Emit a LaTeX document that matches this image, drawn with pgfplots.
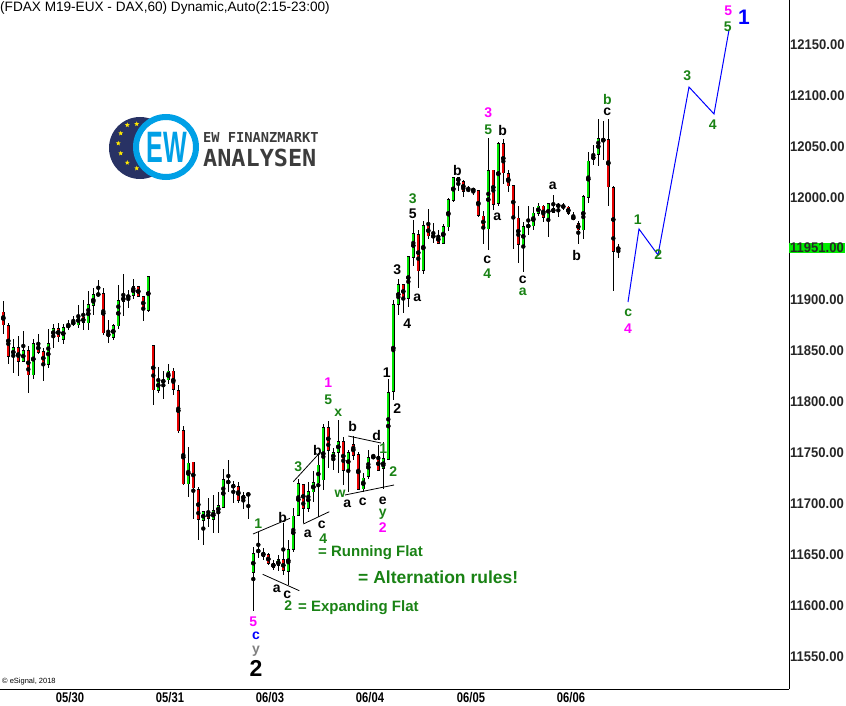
\documentclass[border=0pt]{standalone}
\usepackage{fontspec}
\setmainfont{Liberation Sans}
\newfontfamily\axisfont{Liberation Sans}[FakeStretch=0.93]
\newfontfamily\datefont{Liberation Sans}[FakeStretch=0.8]
\newfontfamily\ewfont{Liberation Sans}[FakeStretch=0.57]
\newfontfamily\logofont{DejaVu Sans Mono}
\usepackage{pgfplots}
\usepackage{pgfplotstable}
\pgfplotsset{compat=1.18}
\usetikzlibrary{shapes.geometric}

\definecolor{cgreen}{RGB}{0,230,0}
\definecolor{cred}{RGB}{230,0,0}
\definecolor{tag}{RGB}{0,235,0}
\definecolor{wg}{RGB}{25,130,20}
\definecolor{wm}{RGB}{255,0,255}
\definecolor{wb}{RGB}{0,0,255}
\definecolor{wgray}{RGB}{128,128,128}
\definecolor{logonavy}{RGB}{40,50,100}
\definecolor{logoblue}{RGB}{0,160,230}
\definecolor{logogray}{RGB}{60,60,60}

% hourly bars, x = bar number
\pgfplotstableread{
x o h l c
0 11888 11899 11867 11876
1 11875 11877 11837 11845
2 11845 11862 11829 11853
3 11853 11865 11826 11840
4 11840 11870 11840 11850
5 11850 11855 11809 11827
6 11827 11862 11823 11857
7 11857 11867 11847 11849
8 11849 11853 11821 11837
9 11837 11872 11833 11857
10 11864 11876 11853 11872
11 11872 11878 11859 11864
12 11862 11877 11857 11873
13 11874 11880 11871 11875
14 11877 11884 11875 11878
15 11876 11895 11873 11884
16 11883 11900 11871 11878
17 11878 11909 11871 11895
18 11895 11912 11885 11905
19 11905 11920 11904 11906
20 11906 11912 11866 11868
21 11868 11880 11858 11864
22 11864 11877 11861 11875
23 11875 11915 11872 11899
24 11899 11926 11884 11903
25 11903 11910 11892 11904
26 11905 11921 11901 11913
27 11913 11914 11903 11904
28 11903 11904 11879 11891
29 11890 11924 11888 11923
30 11855 11855 11797 11812
31 11812 11834 11809 11821
32 11820 11830 11803 11821
33 11822 11837 11818 11830
34 11830 11833 11807 11813
35 11811 11817 11770 11772
36 11772 11777 11719 11720
37 11720 11756 11707 11740
38 11741 11741 11685 11716
39 11714 11717 11665 11685
40 11684 11692 11660 11692
41 11692 11706 11678 11686
42 11685 11709 11672 11693
43 11692 11712 11672 11698
44 11697 11734 11696 11724
45 11723 11743 11712 11720
46 11719 11723 11701 11716
47 11717 11722 11701 11704
48 11705 11712 11695 11708
49 11709 11711 11685 11710
50 11633 11658 11595 11651
51 11653 11673 11647 11655
52 11652 11657 11645 11649
53 11650 11652 11640 11642
54 11642 11645 11635 11638
55 11640 11650 11634 11645
56 11645 11681 11630 11635
57 11634 11665 11621 11655
58 11656 11696 11653 11688
59 11689 11725 11688 11720
60 11719 11720 11681 11696
61 11696 11722 11692 11712
62 11712 11732 11702 11721
63 11721 11750 11687 11738
64 11724 11779 11714 11775
65 11775 11781 11735 11753
66 11744 11755 11733 11750
67 11751 11782 11730 11761
68 11761 11766 11719 11733
69 11733 11753 11712 11750
70 11758 11767 11743 11748
71 11748 11751 11714 11715
72 11715 11730 11712 11725
73 11727 11753 11725 11745
74 11745 11749 11745 11747
75 11746 11758 11732 11733
76 11735 11761 11715 11744
77 11744 11823 11743 11809
78 11811 11900 11802 11895
79 11896 11921 11885 11915
80 11915 11916 11887 11902
81 11902 11943 11893 11942
82 11942 11979 11933 11965
83 11964 11969 11912 11929
84 11929 11978 11926 11973
85 11973 11989 11960 11963
86 11963 11975 11956 11962
87 11963 11969 11955 11956
88 11956 11975 11955 11972
89 11972 12000 11968 11998
90 11998 12021 11996 12020
91 12020 12021 12007 12016
92 12016 12018 12001 12007
93 12008 12012 12006 12008
94 12009 12010 12003 12007
95 12007 12007 11981 11983
96 11982 11987 11955 11971
97 11970 12059 11949 12027
98 12027 12027 11988 11994
99 11995 12055 11992 12053
100 12053 12058 12014 12025
101 12024 12028 12006 12012
102 12012 12012 11950 11980
103 11980 11992 11936 11955
104 11953 11977 11928 11972
105 11972 11992 11964 11973
106 11973 11991 11969 11985
107 11985 11995 11982 11992
108 11992 11993 11977 11981
109 11980 11995 11962 11994
110 11986 12003 11985 11990
111 11992 11995 11981 11993
112 11992 11995 11988 11992
113 11991 11992 11983 11985
114 11982 11986 11978 11979
115 11975 11977 11955 11969
116 11969 12003 11960 12001
117 12001 12045 11995 12036
118 12038 12052 12032 12041
119 12043 12077 12031 12058
120 12056 12076 12037 12058
121 12057 12078 11992 12011
122 12010 12012 11909 11948
123 11950 11955 11941 11951
}\bars

\pgfplotsset{
  stick/.style={only marks, mark=none,
    error bars/y dir=both, error bars/y explicit, error bars/error mark=none,
    error bars/error bar style={#1}},
}

\tikzset{
  wl/.style={font=\bfseries\fontsize{14}{14}\selectfont, inner sep=0pt},
}

\begin{document}
\begin{tikzpicture}
\useasboundingbox (0,0) rectangle (846pt,-706pt);
\begin{axis}[
  at={(0,0)}, anchor=north west,
  scale only axis, width=789pt, height=689pt,
  xmin=-0.66, xmax=157.14, ymin=11518.6, ymax=12194.12,
  axis x line*=bottom, axis y line*=right,
  axis line style={black, line width=1pt},
  major tick length=0pt,
  scaled y ticks=false,
  xtick={13.34,33.34,53.34,73.34,93.54,113.54},
  xticklabels={05/30,05/31,06/03,06/04,06/05,06/06},
  xticklabel style={font=\datefont\bfseries\fontsize{14}{14}\selectfont, inner sep=0pt, yshift=-3pt},
  ytick={11550,11600,11650,11700,11750,11800,11850,11900,12000,12050,12100,12150},
  yticklabel style={font=\axisfont\bfseries\fontsize{14}{14}\selectfont, anchor=west, inner xsep=1pt, inner ysep=0pt, text=black!85},
  extra y ticks={11951},
  extra y tick style={tick label style={fill=tag, text=white, inner ysep=4.5pt}},
  /pgf/number format/.cd, fixed, fixed zerofill, precision=2, 1000 sep={}, assume math mode=true
]
% wicks
\addplot[stick={black, line width=1pt}]
  table[x=x, y expr={(\thisrow{h}+\thisrow{l})/2}, y error expr={(\thisrow{h}-\thisrow{l})/2}] {\bars};
% body outline
\addplot[stick={black, line width=3.6pt}]
  table[x=x, y expr={(\thisrow{o}+\thisrow{c})/2}, y error expr={abs(\thisrow{o}-\thisrow{c})/2+0.7}] {\bars};
% up bodies
\addplot[restrict expr to domain={\thisrow{c}-\thisrow{o}}{0.5:10000}, stick={cgreen, line width=2.2pt}]
  table[x=x, y expr={(\thisrow{o}+\thisrow{c})/2}, y error expr={abs(\thisrow{o}-\thisrow{c})/2}] {\bars};
% down bodies
\addplot[restrict expr to domain={\thisrow{o}-\thisrow{c}}{0.5:10000}, stick={cred, line width=2.2pt}]
  table[x=x, y expr={(\thisrow{o}+\thisrow{c})/2}, y error expr={abs(\thisrow{o}-\thisrow{c})/2}] {\bars};
% projected path
\addplot[wb, line width=1pt, mark=none] coordinates {
  (124.94,11898) (127.14,11969.6) (130.94,11944.1) (137.14,12108.8) (142.14,12082.4) (145.14,12164.7)};
\end{axis}

\begin{scope}[x=1pt, y=-1pt]
% title and copyright
\node[anchor=base west, inner sep=0pt, font=\fontsize{13.6}{14}\selectfont] at (0,11.7) {(FDAX M19-EUX - DAX,60) Dynamic,Auto(2:15-23:00)};
\node[anchor=base west, inner sep=0pt, font=\fontsize{7.5}{8}\selectfont] at (2,683) {\textcopyright{} eSignal, 2018};

% logo
\fill[logonavy] (140,148) circle[radius=31pt];
\foreach \sx/\sy in {127.3/125,136.7/124,120.7/133.3,118.3/143.3,120.7/153.3,127.3/162.7,136.7/168.3}
  \node[star, star points=5, star point ratio=2.2, fill=yellow!90!orange, inner sep=0pt, minimum size=5pt] at (\sx,\sy) {};
\draw[logoblue, line width=6pt, fill=white] (166,147) circle[radius=30pt];
\node[text=logoblue, inner sep=0pt, font=\ewfont\bfseries\fontsize{44}{44}\selectfont] at (167,147.5) {EW};
\node[anchor=base west, inner sep=0pt, text=logogray, font=\logofont\bfseries\fontsize{13.7}{14}\selectfont] at (203,142.7) {EW FINANZMARKT};
\node[anchor=base west, inner sep=0pt, text=logogray, font=\logofont\bfseries\fontsize{23.5}{24}\selectfont] at (203,166.7) {ANALYSEN};

% wave lines
\draw[black, line width=0.8pt] (253,534) -- (290,518.3);
\draw[black, line width=0.8pt] (262.7,574.3) -- (299.3,590.7);
\draw[black, line width=0.8pt] (293.3,481.7) -- (319.3,453.3);
\draw[black, line width=0.8pt] (303.3,524) -- (329.3,511.7);
\draw[black, line width=0.8pt] (348.3,436) -- (381,443);
\draw[black, line width=0.8pt] (345,495) -- (394,485);

% magenta
\foreach \px/\py/\t in {728.3/11/5, 628/329/4, 488.3/112.5/3, 328.3/383/1, 382.7/527.5/2, 253.3/622/5}
  \node[wl, text=wm] at (\px,\py) {\t};
% green
\foreach \px/\py/\t in {727.7/27/5, 687.3/76/3, 712.7/125/4, 637.7/220/1, 658.3/255/2, 628.3/312.5/c,
  607.3/99/b, 488.3/130/5, 487.3/274/4, 522.7/291.5/a, 412.7/199/3, 328.3/399.5/5, 338.3/412.7/x,
  383.3/448.3/1, 393.3/471.7/2, 298.3/466.7/3, 340/494/w, 382.7/514/y, 258.3/523.3/1, 323.3/538.3/4, 288.3/606/2}
  \node[wl, text=wg] at (\px,\py) {\t};
% black
\foreach \px/\py/\t in {607.3/112/c, 576.7/255/b, 502.7/130.7/b, 457.3/170/b, 497.3/216.7/a, 487.3/259.5/c,
  552.7/186/a, 522.7/279.5/c, 412.7/213.5/5, 397.3/269.3/3, 417.3/297.3/a, 407.3/323.3/4, 386.7/372.7/1,
  397.3/408.3/2, 352.7/426.7/b, 376.7/435/d, 317.3/450/b, 347.3/503.3/a, 362.7/501.7/c, 382.7/501/e,
  282.7/517.3/b, 307.7/533.3/a, 321.7/525/c, 276.7/588.3/a, 287.3/595/c}
  \node[wl, text=black] at (\px,\py) {\t};
\node[wl, text=wb, font=\bfseries\fontsize{21}{21}\selectfont] at (744,17.3) {1};
\node[wl, text=wb] at (256,636) {c};
\node[wl, text=wgray] at (256,651) {y};
\node[wl, text=black, font=\bfseries\fontsize{23}{23}\selectfont] at (256,668) {2};

% notes
\node[anchor=base west, inner sep=0pt, text=wg, font=\bfseries\fontsize{15}{15}\selectfont] at (318,556) {= Running Flat};
\node[anchor=base west, inner sep=0pt, text=wg, font=\bfseries\fontsize{17.5}{17.5}\selectfont] at (358,583) {= Alternation rules!};
\node[anchor=base west, inner sep=0pt, text=wg, font=\bfseries\fontsize{15}{15}\selectfont] at (298,611.4) {= Expanding Flat};
\end{scope}
\end{tikzpicture}
\end{document}
